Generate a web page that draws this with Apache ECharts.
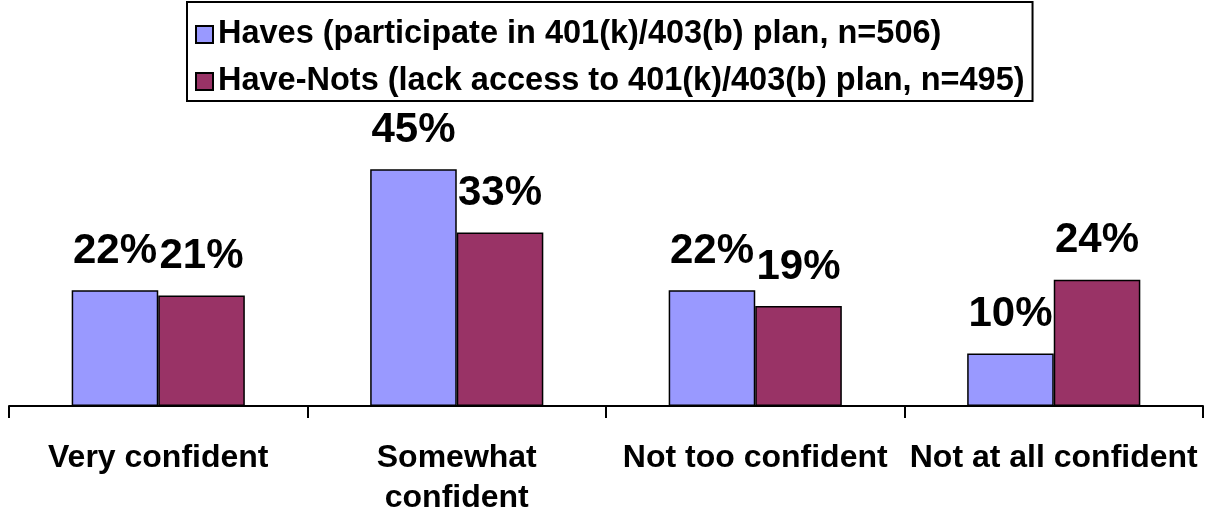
<!DOCTYPE html>
<html style="height: 100%">
<head>
  <meta charset="utf-8">
</head>
<body style="height: 100%; margin: 0">
  <div id="container" style="width: 1206px; height: 510px"></div>
  <script src="https://cdn.jsdelivr.net/npm/echarts@6.0.0/dist/echarts.min.js"></script>
  <script type="text/javascript">
    var categories = ['Very confident', 'Somewhat\nconfident', 'Not too confident', 'Not at all confident'];
    var seriesNames = ['Haves (participate in 401(k)/403(b) plan, n=506)', 'Have-Nots (lack access to 401(k)/403(b) plan, n=495)'];
    var haves = [22, 45, 22, 10];
    var haveNots = [21, 33, 19, 24];
    var colors = ['#9999FF', '#993366'];

    var myChart = echarts.init(document.getElementById('container'));
    var font = 'Liberation Sans, Arial, sans-serif';

    var labelOpt = {
      show: true,
      position: 'top',
      distance: 18,
      formatter: '{c}%',
      color: '#000',
      fontSize: 42,
      fontWeight: 'bold',
      fontFamily: font
    };

    var option = {
      animation: false,
      color: colors,
      legend: {
        orient: 'vertical',
        left: 187,
        top: 2,
        padding: [16, 8, 3, 8],
        itemGap: 14,
        itemWidth: 17,
        itemHeight: 17,
        borderColor: '#000',
        borderWidth: 2,
        icon: 'rect',
        textStyle: { fontSize: 32.5, fontWeight: 'bold', color: '#000', fontFamily: font },
        data: seriesNames
      },
      grid: { left: 9, right: 3, top: 143, bottom: 104, containLabel: false, outerBoundsMode: 'none' },
      xAxis: {
        type: 'category',
        data: categories,
        axisLine: { lineStyle: { color: '#000', width: 2 } },
        axisTick: { show: true, interval: 0, length: 12, lineStyle: { color: '#000', width: 2 } },
        axisLabel: {
          interval: 0,
          margin: 32,
          lineHeight: 40,
          color: '#000',
          fontSize: 32,
          fontWeight: 'bold',
          fontFamily: font
        }
      },
      yAxis: {
        type: 'value',
        min: 0,
        max: 50,
        show: false,
        splitLine: { show: false }
      },
      series: [
        {
          name: seriesNames[0],
          type: 'bar',
          data: haves,
          barGap: '0%',
          barCategoryGap: '42%',
          itemStyle: { color: colors[0], borderColor: '#000', borderWidth: 1.5 },
          label: labelOpt
        },
        {
          name: seriesNames[1],
          type: 'bar',
          data: haveNots,
          itemStyle: { color: colors[1], borderColor: '#000', borderWidth: 1.5 },
          label: labelOpt
        }
      ]
    };

    myChart.setOption(option);
  </script>
</body>
</html>
